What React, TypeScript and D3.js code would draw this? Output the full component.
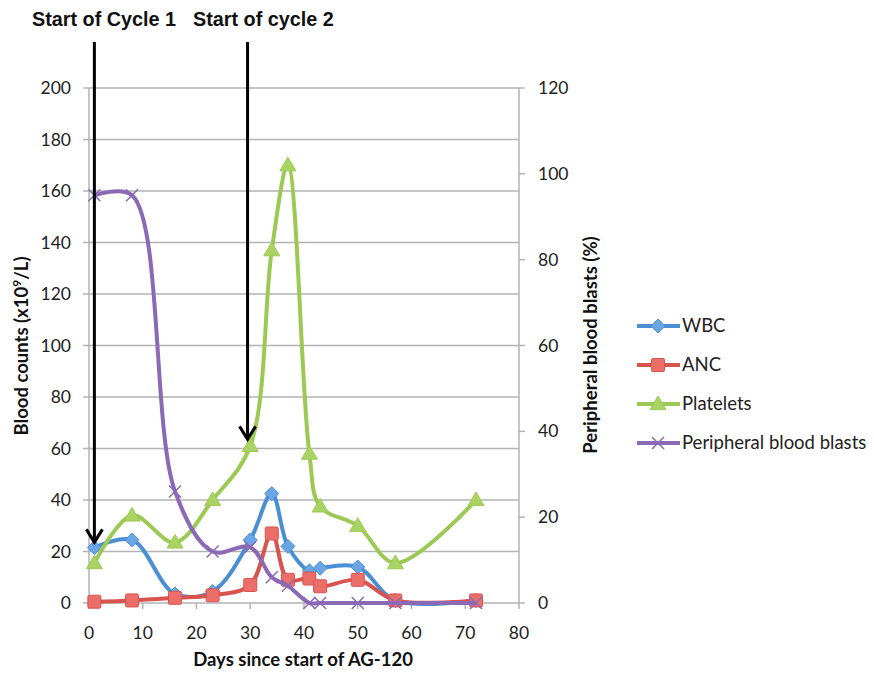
import * as d3 from "d3";

// days of each sample
const days = [1, 8, 16, 23, 30, 34, 37, 41, 43, 50, 57, 72];

// blood counts (x10^9/L), left axis
const wbc = [21.5, 24.5, 3.5, 4.5, 24.5, 42.5, 22, 12.5, 13.5, 14, 1, 1];
const anc = [0.5, 1, 2, 3, 7, 27, 9, 9.5, 6.5, 9, 1, 1];
const platelets = [15.5, 34, 23.5, 40, 61, 137, 170, 58, 37.5, 30, 15.5, 40];

// peripheral blood blasts (%), right axis
const blasts = [95, 95, 26, 12, 13, 6, 4, 0, 0, 0, 0, 0];

const xTicks = [0, 10, 20, 30, 40, 50, 60, 70, 80];
const leftTicks = [0, 20, 40, 60, 80, 100, 120, 140, 160, 180, 200];
const rightTicks = [0, 20, 40, 60, 80, 100, 120];

const legendLabels = ["WBC", "ANC", "Platelets", "Peripheral blood blasts"];

const W = 874;
const H = 679;
const plot = { left: 89, right: 519, top: 88, bottom: 603 };

const tickFont = "Lato, 'Open Sans', sans-serif";

type Marker = "diamond" | "square" | "triangle" | "cross";

function MarkerShape({ kind, x, y, stroke, fill }: { kind: Marker; x: number; y: number; stroke: string; fill: string }) {
  if (kind === "diamond") {
    const r = 7;
    return (
      <path
        d={`M${x},${y - r}L${x + r},${y}L${x},${y + r}L${x - r},${y}Z`}
        fill={fill}
        stroke={stroke}
        strokeWidth={1}
      />
    );
  }
  if (kind === "square") {
    const r = 6.5;
    return <rect x={x - r} y={y - r} width={2 * r} height={2 * r} rx={1.5} fill={fill} stroke={stroke} strokeWidth={1} />;
  }
  if (kind === "triangle") {
    const r = 8;
    return (
      <path
        d={`M${x},${y - r}L${x + r},${y + r * 0.7}L${x - r},${y + r * 0.7}Z`}
        fill={fill}
        stroke={stroke}
        strokeWidth={1}
      />
    );
  }
  const r = 6;
  return (
    <path
      d={`M${x - r},${y - r}L${x + r},${y + r}M${x + r},${y - r}L${x - r},${y + r}`}
      stroke={stroke}
      strokeWidth={1.5}
      fill="none"
    />
  );
}

export default function App() {
  const x = d3.scaleLinear().domain([0, 80]).range([plot.left, plot.right]);
  const yL = d3.scaleLinear().domain([0, 200]).range([plot.bottom, plot.top]);
  const yR = d3.scaleLinear().domain([0, 120]).range([plot.bottom, plot.top]);

  const series = [
    { name: legendLabels[0], values: wbc, y: yL, color: "#4a8fd4", fill: "#6aa6e6", marker: "diamond" as Marker },
    { name: legendLabels[1], values: anc, y: yL, color: "#d9534f", fill: "#ec6e68", marker: "square" as Marker },
    { name: legendLabels[2], values: platelets, y: yL, color: "#9cc954", fill: "#a9d464", marker: "triangle" as Marker },
    { name: legendLabels[3], values: blasts, y: yR, color: "#8b69b5", fill: "none", marker: "cross" as Marker },
  ];

  const lineFor = (yScale: d3.ScaleLinear<number, number>) =>
    d3
      .line<number>()
      .x((_, i) => x(days[i]))
      .y((d) => yScale(d))
      .curve(d3.curveCatmullRom.alpha(0.5));

  // arrows: start of cycle 1 (day 1) and cycle 2 (day 29)
  const arrows = [
    { day: 1, tip: 22, scale: yL },
    { day: 29.5, tip: 62, scale: yL },
  ];

  const legendY0 = 326;
  const legendStep = 39;

  return (
    <svg width={W} height={H} style={{ display: "block", position: "absolute", left: 0, top: 0, background: "#fff" }}>
      {/* gridlines */}
      {leftTicks.slice(1).map((t) => (
        <line key={t} x1={plot.left} x2={plot.right} y1={yL(t)} y2={yL(t)} stroke="#b3b3b3" strokeWidth={1.5} />
      ))}

      {/* left axis */}
      <line x1={plot.left} x2={plot.left} y1={plot.top} y2={plot.bottom} stroke="#b3b3b3" strokeWidth={1.5} />
      {leftTicks.map((t) => (
        <g key={t}>
          <line x1={plot.left - 6} x2={plot.left} y1={yL(t)} y2={yL(t)} stroke="#b3b3b3" strokeWidth={1.5} />
          <text x={71} y={yL(t)} dy="0.35em" textAnchor="end" fontFamily={tickFont} fontSize={17.5} fill="#222">
            {t}
          </text>
        </g>
      ))}

      {/* right axis */}
      <line x1={plot.right} x2={plot.right} y1={plot.top} y2={plot.bottom} stroke="#b3b3b3" strokeWidth={1.5} />
      {rightTicks.map((t) => (
        <g key={t}>
          <line x1={plot.right} x2={plot.right + 6} y1={yR(t)} y2={yR(t)} stroke="#b3b3b3" strokeWidth={1.5} />
          <text x={538} y={yR(t)} dy="0.35em" textAnchor="start" fontFamily={tickFont} fontSize={17.5} fill="#222">
            {t}
          </text>
        </g>
      ))}

      {/* x axis */}
      <line x1={plot.left} x2={plot.right} y1={plot.bottom} y2={plot.bottom} stroke="#b3b3b3" strokeWidth={1.5} />
      {xTicks.map((t) => (
        <g key={t}>
          <line x1={x(t)} x2={x(t)} y1={plot.bottom} y2={plot.bottom + 6} stroke="#b3b3b3" strokeWidth={1.5} />
          <text x={x(t)} y={633} dy="0.35em" textAnchor="middle" fontFamily={tickFont} fontSize={17.5} fill="#222">
            {t}
          </text>
        </g>
      ))}

      {/* series */}
      {series.map((s) => (
        <g key={s.name}>
          <path d={lineFor(s.y)(s.values) || ""} fill="none" stroke={s.color} strokeWidth={4} strokeLinejoin="round" />
          {s.values.map((v, i) => (
            <MarkerShape key={i} kind={s.marker} x={x(days[i])} y={s.y(v)} stroke={s.color} fill={s.fill} />
          ))}
        </g>
      ))}

      {/* arrows */}
      {arrows.map((a, i) => {
        const ax = x(a.day);
        const tipY = a.scale(a.tip) - 4;
        return (
          <g key={i} stroke="#000" fill="none" strokeWidth={3}>
            <line x1={ax} x2={ax} y1={42} y2={tipY} />
            <path d={`M${ax - 8},${tipY - 13}L${ax},${tipY}L${ax + 8},${tipY - 13}`} strokeLinejoin="miter" />
          </g>
        );
      })}

      {/* annotations */}
      <text x={32} y={26} fontFamily="'Liberation Sans', Arial, sans-serif" fontWeight="bold" fontSize={19.8} fill="#111">
        Start of Cycle 1
      </text>
      <text x={193} y={26} fontFamily="'Liberation Sans', Arial, sans-serif" fontWeight="bold" fontSize={19.8} fill="#111">
        Start of cycle 2
      </text>

      {/* axis titles */}
      <text
        transform={`translate(28,346) rotate(-90)`}
        textAnchor="middle"
        fontFamily={tickFont}
        fontWeight="bold"
        fontSize={18.5}
        fill="#111"
      >
        Blood counts (x10<tspan dy={-7} fontSize={12}>9</tspan>
        <tspan dy={7}>/L)</tspan>
      </text>
      <text
        transform={`translate(597,345) rotate(-90)`}
        textAnchor="middle"
        fontFamily={tickFont}
        fontWeight="bold"
        fontSize={18.5}
        fill="#111"
      >
        Peripheral blood blasts (%)
      </text>
      <text x={303} y={666} textAnchor="middle" fontFamily={tickFont} fontWeight="bold" fontSize={18.5} fill="#111">
        Days since start of AG-120
      </text>

      {/* legend */}
      {series.map((s, i) => {
        const ly = legendY0 + i * legendStep;
        return (
          <g key={s.name}>
            <line x1={637} x2={680} y1={ly} y2={ly} stroke={s.color} strokeWidth={4} />
            <MarkerShape kind={s.marker} x={658} y={ly} stroke={s.color} fill={s.fill} />
            <text x={682} y={ly} dy="0.35em" fontFamily={tickFont} fontSize={18.5} fill="#222">
              {s.name}
            </text>
          </g>
        );
      })}
    </svg>
  );
}
